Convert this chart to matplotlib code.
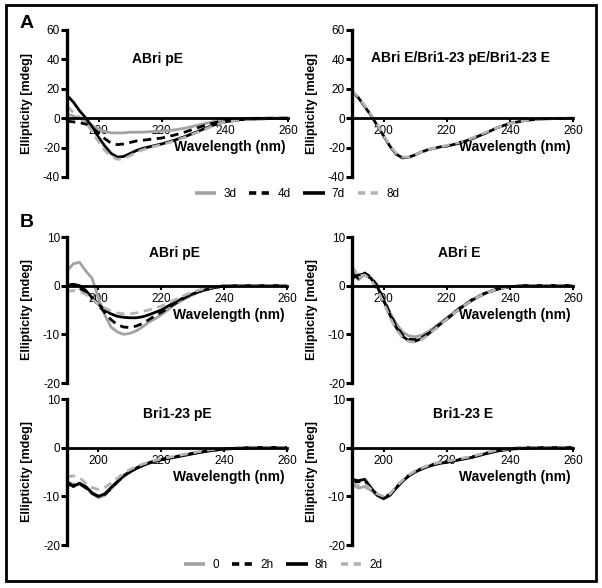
import matplotlib
matplotlib.use("Agg")
import matplotlib.pyplot as plt
from matplotlib.lines import Line2D
from matplotlib.patches import Rectangle

plt.rcParams['font.family'] = ['Liberation Sans', 'DejaVu Sans']
plt.rcParams['axes.unicode_minus'] = False

# ---------------- data ----------------
wavelength = [190, 192, 194, 196, 198, 200, 202, 204, 206, 208, 210, 212, 214, 216, 218,
              220, 224, 228, 232, 236, 240, 245, 250, 255, 260]

# Panel A - ABri pE
a1_3d = [3, 1.5, 0, -2, -5, -7.5, -9, -10, -10, -10, -9.5, -9.5, -9.5, -9.2, -9,
         -8.8, -8, -6.5, -4.5, -2.5, -1, -0.3, 0, 0, 0]
a1_4d = [-2, -2.5, -3, -4, -6.5, -10, -14, -17, -18, -17.5, -16.5, -15.5, -15, -14.5, -14,
         -13.5, -11.5, -9, -6, -3.5, -1.5, -0.5, -0.2, 0, 0]
a1_7d = [15.5, 11, 5, 0, -6, -13, -19, -24, -26.5, -26, -24, -22, -20.5, -19.5, -18.5,
         -17.5, -15, -12, -8.5, -5, -2.5, -1, -0.5, -0.2, 0]
a1_8d = [8, 4, 0.5, -3, -9, -16, -22, -26, -28, -27.5, -25.5, -23, -21.5, -20, -19,
         -18, -15.5, -12.5, -9, -5.5, -2.5, -1, -0.5, -0.2, 0]

# Panel A - ABri E/Bri1-23 pE/Bri1-23 E
a2_7d = [18, 14, 8, 2, -5, -12, -19, -24.5, -27, -26.5, -25, -23, -21.5, -20.5, -19.5,
         -19, -17, -14, -10.5, -6.5, -3.5, -1.5, -0.5, -0.2, 0]
a2_8d = [18.5, 14.5, 8.5, 2.5, -4.5, -11.5, -18.5, -24, -26.5, -26.5, -25, -23, -21.5, -20.5, -19.5,
         -18.5, -16.5, -13.5, -10, -6.5, -3.5, -1.5, -0.5, -0.2, 0]

# Panel B - ABri pE
b1_0 = [3, 4.5, 4.8, 3, 1.5, -2.5, -6, -8.5, -9.5, -10, -9.8, -9.3, -8.5, -7.5, -6.8,
        -6, -4, -2.5, -1.3, -0.5, 0, 0, 0, 0, 0]
b1_2h = [0, 0.2, -0.5, -1.5, -2.5, -4, -5.5, -7, -8, -8.5, -8.6, -8.3, -7.8, -7, -6.2,
         -5.5, -3.8, -2.3, -1.2, -0.5, 0, 0, 0, 0, 0]
b1_8h = [0, 0.3, 0, -1, -2.5, -3.8, -5, -5.8, -6.3, -6.5, -6.6, -6.6, -6.4, -6, -5.5,
         -5, -3.5, -2.2, -1.2, -0.5, -0.1, 0, 0, 0, 0]
b1_2d = [-1.2, -1, -1.2, -1.8, -2.8, -3.8, -4.6, -5.2, -5.6, -5.8, -5.8, -5.6, -5.3, -5, -4.6,
         -4.2, -3, -1.8, -0.9, -0.3, 0, 0, 0, 0, 0]

# Panel B - ABri E
b2_0 = [3.5, 1.2, 2.3, 1.6, -0.3, -2.8, -5.5, -7.8, -9.5, -10.3, -10.5, -10.2, -9.5, -8.6, -7.6,
        -6.6, -4.6, -2.9, -1.6, -0.7, -0.2, 0, 0, 0, 0]
b2_2h = [2.5, 1.5, 2.6, 1.8, 0, -2.7, -5.7, -8.3, -10.1, -11, -11.1, -10.7, -9.9, -8.9, -7.8,
         -6.8, -4.7, -2.9, -1.6, -0.7, -0.2, 0, 0, 0, 0]
b2_8h = [1.5, 2.2, 2.4, 1.5, -0.2, -3, -6, -8.6, -10.4, -11.3, -11.4, -10.9, -10, -9, -7.9,
         -6.9, -4.8, -3, -1.6, -0.7, -0.2, 0, 0, 0, 0]
b2_2d = [4, 2, 2.2, 1.2, -0.8, -3.5, -6.5, -9, -10.7, -11.5, -11.6, -11.1, -10.2, -9.1, -8,
         -6.9, -4.8, -3, -1.6, -0.7, -0.2, 0, 0, 0, 0]

# Panel B - Bri1-23 pE
b3_0 = [-7, -7.5, -7.5, -8.2, -9.5, -10.3, -9.8, -8.5, -7.2, -6, -5, -4.3, -3.7, -3.2, -2.8,
        -2.5, -2, -1.5, -1, -0.6, -0.3, -0.1, 0, 0, 0]
b3_2h = [-7.5, -7.8, -7.4, -8.3, -9.4, -10, -9.6, -8.4, -7, -5.8, -4.9, -4.2, -3.6, -3.1, -2.7,
         -2.4, -1.9, -1.4, -0.9, -0.5, -0.3, -0.1, 0, 0, 0]
b3_8h = [-7, -8, -7.3, -8, -9.3, -10, -9.5, -8.2, -7, -5.8, -5, -4.3, -3.7, -3.2, -2.8,
         -2.5, -2, -1.5, -1, -0.6, -0.3, -0.1, 0, 0, 0]
b3_2d = [-6, -5.8, -6.2, -7.3, -8.2, -8.6, -8.2, -7.3, -6.3, -5.3, -4.5, -3.9, -3.4, -3, -2.6,
         -2.3, -1.8, -1.3, -0.8, -0.4, -0.2, 0, 0, 0, 0]

# Panel B - Bri1-23 E
b4_0 = [-7.5, -8.3, -8, -8.8, -9.8, -10.3, -9.7, -8.3, -6.9, -5.8, -5, -4.4, -3.9, -3.5, -3.2,
        -3, -2.5, -2, -1.3, -0.7, -0.3, -0.1, 0, 0, 0]
b4_2h = [-7, -7, -6.8, -8.3, -9.6, -10.2, -9.6, -8.2, -6.8, -5.7, -4.9, -4.3, -3.8, -3.4, -3.1,
         -2.9, -2.4, -1.9, -1.2, -0.6, -0.2, 0, 0, 0, 0]
b4_8h = [-6.5, -6.8, -6.5, -8.2, -9.8, -10.5, -9.8, -8.3, -6.9, -5.8, -5, -4.4, -3.9, -3.5, -3.2,
         -3, -2.5, -2, -1.3, -0.7, -0.3, -0.1, 0, 0, 0]
b4_2d = [-7.2, -7.8, -7.5, -8.5, -9.5, -10, -9.5, -8, -6.7, -5.6, -4.8, -4.2, -3.7, -3.3, -3,
         -2.8, -2.3, -1.8, -1.1, -0.5, -0.2, 0, 0, 0, 0]

labels_A = ['3d', '4d', '7d', '8d']
labels_B = ['0', '2h', '8h', '2d']
titles = ['ABri pE', 'ABri E/Bri1-23 pE/Bri1-23 E', 'ABri pE', 'ABri E', 'Bri1-23 pE', 'Bri1-23 E']
xticks = [200, 220, 240, 260]
yticks_A = [60, 40, 20, 0, -20, -40]
yticks_B = [10, 0, -10, -20]

# ---------------- styles ----------------
GREY = '#a3a3a3'
LGREY = '#b3b3b3'
LW = 2.0
colors = [GREY, 'black', 'black', LGREY]
line_ls = ['-', (0, (3, 2)), '-', (0, (3, 2))]
leg_ls = ['-', (0, (2, 1.5)), '-', (0, (2, 1.5))]

fig = plt.figure(figsize=(6.02, 5.88), dpi=100)
W, H = 602.0, 588.0


def make_ax(x0, x1, ytop, ybot):
    return fig.add_axes([x0 / W, 1 - ybot / H, (x1 - x0) / W, (ybot - ytop) / H])


def style_ax(ax, ylim, yticks, title, tpos):
    ax.set_xlim(190, 260)
    ax.set_ylim(*ylim)
    ax.set_yticks(yticks)
    ax.set_xticks(xticks)
    ax.spines['top'].set_visible(False)
    ax.spines['right'].set_visible(False)
    ax.spines['bottom'].set_position(('data', 0))
    ax.spines['bottom'].set_linewidth(2.0)
    ax.spines['left'].set_linewidth(2.4)
    ax.tick_params(axis='y', direction='out', length=4, width=2.2, labelsize=8.5, pad=1)
    ax.tick_params(axis='x', direction='out', length=3, width=1.5, labelsize=8.5, pad=2)
    ax.patch.set_visible(False)
    ax.set_ylabel('Ellipticity [mdeg]', fontsize=9, fontweight='bold')
    ax.yaxis.set_label_coords(-0.155, 0.5)
    ax.text(0.99, tpos[2], 'Wavelength (nm)', transform=ax.transAxes, ha='right', va='center',
            fontsize=10, fontweight='bold')
    ax.text(tpos[0], tpos[1], title, transform=ax.transAxes, ha='center', va='center',
            fontsize=10, fontweight='bold')


def plot_series(ax, series):
    for s, c, ls in zip(series, colors, line_ls):
        if s is None:
            continue
        ax.plot(wavelength, s, lw=LW, color=c, linestyle=ls, solid_capstyle='butt')


# Panel A
axA1 = make_ax(67, 288, 30, 177)
plot_series(axA1, [a1_3d, a1_4d, a1_7d, a1_8d])
style_ax(axA1, (-40, 60), yticks_A, titles[0], (0.41, 0.80, 0.204))

axA2 = make_ax(352, 573, 30, 177)
plot_series(axA2, [None, None, a2_7d, a2_8d])
style_ax(axA2, (-40, 60), yticks_A, titles[1], (0.49, 0.81, 0.204))

# Panel B
axB1 = make_ax(67, 287, 237, 383)
plot_series(axB1, [b1_0, b1_2h, b1_8h, b1_2d])
style_ax(axB1, (-20, 10), yticks_B, titles[2], (0.49, 0.89, 0.466))

axB2 = make_ax(352, 573, 237, 383)
plot_series(axB2, [b2_0, b2_2h, b2_8h, b2_2d])
style_ax(axB2, (-20, 10), yticks_B, titles[3], (0.485, 0.89, 0.466))

axB3 = make_ax(67, 287, 399, 545)
plot_series(axB3, [b3_0, b3_2h, b3_8h, b3_2d])
style_ax(axB3, (-20, 10), yticks_B, titles[4], (0.50, 0.90, 0.466))

axB4 = make_ax(352, 573, 399, 545)
plot_series(axB4, [b4_0, b4_2h, b4_8h, b4_2d])
style_ax(axB4, (-20, 10), yticks_B, titles[5], (0.504, 0.90, 0.466))

# legends
def handles(labels):
    return [Line2D([], [], lw=2.6, color=c, linestyle=ls, dash_capstyle='butt',
                   solid_capstyle='butt', label=l)
            for l, c, ls in zip(labels, colors, leg_ls)]

fig.legend(handles=handles(labels_A), loc='center', bbox_to_anchor=(297 / W, 1 - 194 / H), ncol=4,
           frameon=False, fontsize=8.5, handlelength=1.8, handletextpad=0.6, columnspacing=1.1)
fig.legend(handles=handles(labels_B), loc='center', bbox_to_anchor=(283 / W, 1 - 565 / H), ncol=4,
           frameon=False, fontsize=8.5, handlelength=1.8, handletextpad=0.6, columnspacing=1.1)

# panel letters
fig.text(27 / W, 1 - 23 / H, 'A', fontsize=14, fontweight='bold', ha='center', va='center')
fig.text(27 / W, 1 - 223 / H, 'B', fontsize=14, fontweight='bold', ha='center', va='center')

# outer frame
fig.patches.append(Rectangle((6 / W, 1 - 581 / H), 590 / W, 576 / H, transform=fig.transFigure,
                             fill=False, lw=2.0, edgecolor='black'))

fig.savefig('out.png', dpi=100)
